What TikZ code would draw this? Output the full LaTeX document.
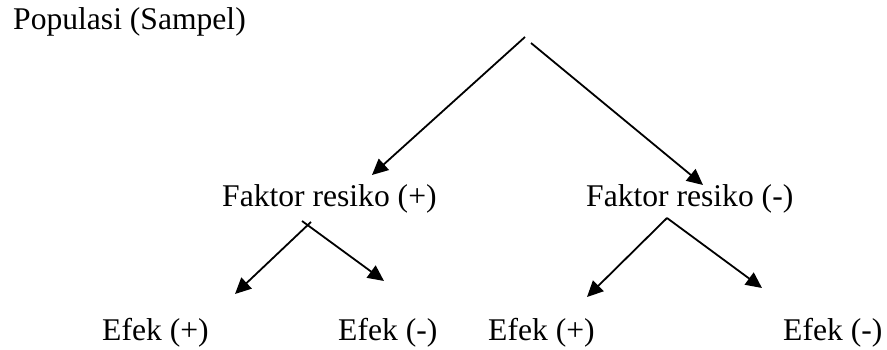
\documentclass[tikz,border=0pt]{standalone}
\usepackage{fontspec}
\setmainfont{Liberation Serif}
\usetikzlibrary{arrows.meta}
\begin{document}
\begin{tikzpicture}[x=1pt,y=-1pt,
  lbl/.style={anchor=base west,inner sep=0pt,font=\fontsize{31.6}{38}\selectfont},
  arr/.style={line width=1.8pt,-{Triangle[length=16pt,width=15pt]}}]
\useasboundingbox (0,0) rectangle (887,350);
\node[lbl] (pop) at (13,30) {Populasi (Sampel)};
\node[lbl] (fp) at (222,207) {Faktor resiko (+)};
\node[lbl] (fm) at (586,207) {Faktor resiko (-)};
\node[lbl] (e1) at (102,340) {Efek (+)};
\node[lbl] (e2) at (338,340) {Efek (-)};
\node[lbl] (e3) at (488,340) {Efek (+)};
\node[lbl] (e4) at (783,340) {Efek (-)};
% start points and arrow tips
\coordinate (apexL) at (525,37);
\coordinate (apexR) at (531,43);
\coordinate (tipFP) at (372,175);
\coordinate (tipFM) at (703,185);
\coordinate (sFPl) at (311,222);
\coordinate (sFPr) at (302,221);
\coordinate (tipE1) at (235,294);
\coordinate (tipE2) at (384,281);
\coordinate (sFM) at (667,218);
\coordinate (tipE3) at (587,297);
\coordinate (tipE4) at (762,288);
\draw[arr] (apexL) -- (tipFP);
\draw[arr] (apexR) -- (tipFM);
\draw[arr] (sFPl) -- (tipE1);
\draw[arr] (sFPr) -- (tipE2);
\draw[arr] (sFM) -- (tipE3);
\draw[arr] (sFM) -- (tipE4);
\end{tikzpicture}
\end{document}
